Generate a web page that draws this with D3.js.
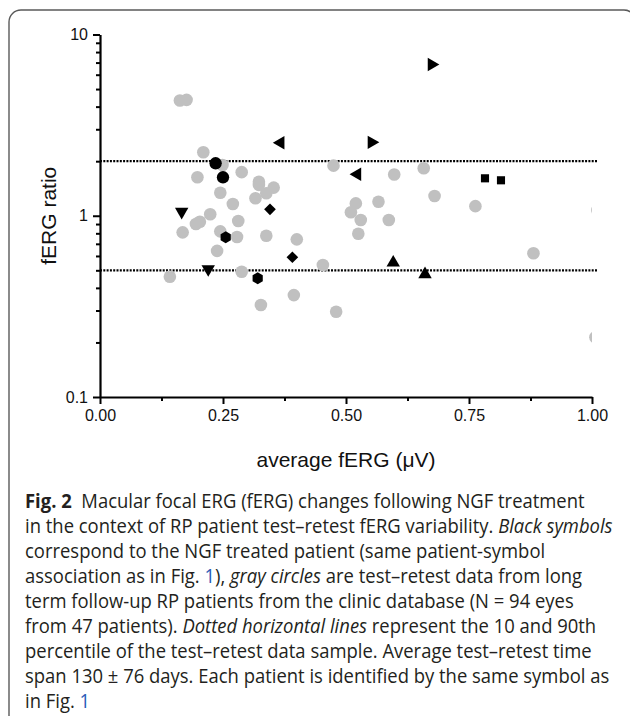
<!DOCTYPE html>
<html><head><meta charset="utf-8">
<script src="https://cdn.jsdelivr.net/npm/d3@7"></script>
<style>html,body{margin:0;padding:0;background:#fff;} svg{display:block}</style>
</head><body>
<svg id="c" width="630" height="716"></svg>
<script>
// ---------------- data ----------------
const grayX = [0.210,0.249,0.198,0.288,0.323,0.323,0.353,0.338,0.316,0.2445,0.270,0.224,0.203,0.195,0.281,0.168,0.2445,0.2785,0.338,0.400,0.238,
               0.4746,0.598,0.658,0.680,0.763,0.520,0.566,0.510,0.530,0.587,0.525,0.881,0.453,0.142,0.288,0.327,0.394,0.480,0.1624,0.176,1.011,1.007];
const grayY = [2.24,1.905,1.63,1.74,1.54,1.48,1.43,1.33,1.25,1.34,1.16,1.02,0.927,0.90,0.935,0.81,0.82,0.764,0.776,0.741,0.64,
               1.89,1.69,1.83,1.285,1.13,1.17,1.195,1.045,0.947,0.947,0.796,0.621,0.535,0.461,0.491,0.322,0.365,0.2955,4.32,4.36,1.076,0.2135];
const patientSymbols = ["circle","hexagon","triangleDown","diamond","triangleLeft","triangleRight","triangleUp","square"];
const patientX = [[0.235,0.250],[0.2555,0.3205],[0.166,0.220],[0.3455,0.391],[0.367,0.523],[0.552,0.674],[0.596,0.6606],[0.7825,0.815]];
const patientY = [[1.947,1.63],[0.761,0.452],[1.053,0.508],[1.085,0.590],[2.53,1.695],[2.54,6.83],[0.551,0.475],[1.609,1.569]];
const percentileLines = [2, 0.5];
const xTicks = [0, 0.25, 0.5, 0.75, 1];
const xTickLabels = ["0.00","0.25","0.50","0.75","1.00"];
const xMinorTicks = [0.125, 0.375, 0.625, 0.875];
const yTicks = [0.1, 1, 10];
const yTickLabels = ["0.1","1","10"];
const yMinorTicks = [0.2,0.3,0.4,0.5,0.6,0.7,0.8,0.9,2,3,4,5,6,7,8,9];
const xTitle = "average fERG (\u03bcV)";
const yTitle = "fERG ratio";
const captionLines = [
  [["Fig. 2","b"],["  Macular focal ERG (fERG) changes following NGF treatment",""]],
  [["in the context of RP patient test\u2013retest fERG variability. ",""],["Black symbols","i"]],
  [["correspond to the NGF treated patient (same patient-symbol",""]],
  [["association as in Fig. ",""],["1","l"],["), ",""],["gray circles","i"],[" are test\u2013retest data from long",""]],
  [["term follow-up RP patients from the clinic database (N = 94 eyes",""]],
  [["from 47 patients). ",""],["Dotted horizontal lines","i"],[" represent the 10 and 90th",""]],
  [["percentile of the test\u2013retest data sample. Average test\u2013retest time",""]],
  [["span 130 \u00b1 76 days. Each patient is identified by the same symbol as",""]],
  [["in Fig. ",""],["1","l"]]
];

// ---------------- chart ----------------
const svg = d3.select("#c");
const x = d3.scaleLinear().domain([0, 1]).range([100, 592]);
const y = d3.scaleLog().domain([0.1, 10]).range([397, 34.5]);

// frame
svg.append("path")
  .attr("d","M9,740 V22 A12,12 0 0 1 21,10 H624 A12,12 0 0 1 636,22 V740")
  .attr("fill","none").attr("stroke","#5a5a5a").attr("stroke-width",1.4);

svg.append("clipPath").attr("id","plotclip").append("rect")
  .attr("x", x(0)).attr("y", y(10)-10).attr("width", x(1)-x(0)).attr("height", y(0.1)-y(10)+10);

// dotted percentile lines
svg.append("g").selectAll("line").data(percentileLines).join("line")
  .attr("x1", x(0)).attr("x2", x(1.012))
  .attr("y1", d => y(d)).attr("y2", d => y(d))
  .attr("stroke","#000").attr("stroke-width",2.2).attr("stroke-dasharray","2 1.3");

// gray points
const grayData = grayX.map((v,i)=>({x:v,y:grayY[i]}));
svg.append("g").attr("clip-path","url(#plotclip)")
  .selectAll("circle").data(grayData).join("circle")
  .attr("cx", d=>x(d.x)).attr("cy", d=>y(d.y)).attr("r",6.3).attr("fill","#c0c0c0");

// symbols
const hexagon = { draw(ctx, size){ const r = Math.sqrt(size/(1.5*Math.sqrt(3)));
  for(let k=0;k<6;k++){ const a = Math.PI/6 + k*Math.PI/3; const px=r*Math.cos(a), py=r*Math.sin(a);
    if(k===0) ctx.moveTo(px,py); else ctx.lineTo(px,py);} ctx.closePath(); } };
const symDefs = {
  circle:        {type:d3.symbolCircle,   size:120, rot:0},
  hexagon:       {type:hexagon,           size:90,  rot:0},
  triangleDown:  {type:d3.symbolTriangle, size:78,  rot:180},
  triangleUp:    {type:d3.symbolTriangle, size:78,  rot:0},
  triangleLeft:  {type:d3.symbolTriangle, size:78,  rot:-90},
  triangleRight: {type:d3.symbolTriangle, size:78,  rot:90},
  diamond:       {type:d3.symbolSquare,   size:68,  rot:45},
  square:        {type:d3.symbolSquare,   size:66,  rot:0}
};
const blackData = [];
patientSymbols.forEach((s,i)=>patientX[i].forEach((v,j)=>blackData.push({s, x:v, y:patientY[i][j]})));
svg.append("g").selectAll("path").data(blackData).join("path")
  .attr("d", d=>d3.symbol(symDefs[d.s].type, symDefs[d.s].size)())
  .attr("transform", d=>`translate(${x(d.x)},${y(d.y)}) rotate(${symDefs[d.s].rot})`)
  .attr("fill","#000");

// axes
const tickFont = "'Liberation Sans', Arial, sans-serif";
const gy = svg.append("g").attr("transform",`translate(${x(0)},0)`);
gy.call(d3.axisLeft(y).tickValues(yTicks).tickFormat((d,i)=>yTickLabels[i]).tickSize(7).tickPadding(5).tickSizeOuter(0));
gy.append("g").call(d3.axisLeft(y).tickValues(yMinorTicks).tickFormat("").tickSize(4).tickSizeOuter(0))
  .select(".domain").remove();
const gx = svg.append("g").attr("transform",`translate(0,${y(0.1)})`);
gx.call(d3.axisBottom(x).tickValues(xTicks).tickFormat((d,i)=>xTickLabels[i]).tickSize(7).tickPadding(6).tickSizeOuter(0));
gx.append("g").call(d3.axisBottom(x).tickValues(xMinorTicks).tickFormat("").tickSize(4).tickSizeOuter(0))
  .select(".domain").remove();
svg.selectAll(".domain").attr("stroke","#000").attr("stroke-width",2.2);
svg.selectAll(".tick line").attr("stroke","#000").attr("stroke-width",2);
svg.selectAll(".tick text").attr("font-family",tickFont).attr("font-size",16).attr("fill","#111");

svg.append("text").attr("x", (x(0)+x(1))/2).attr("y", 467).attr("text-anchor","middle")
  .attr("font-family",tickFont).attr("font-size",21).attr("fill","#111").text(xTitle);
svg.append("text").attr("transform",`translate(56,${y(1)}) rotate(-90)`).attr("text-anchor","middle")
  .attr("font-family",tickFont).attr("font-size",21).attr("fill","#111").text(yTitle);

// caption
const capFont = "'Open Sans', 'Noto Sans', sans-serif";
const capLeft = 25;
const cap = svg.append("g").attr("font-family",capFont).attr("fill","#231f20");
const capTexts = captionLines.map((segs,i)=>{
  const t = cap.append("text").attr("x",0).attr("y",508.5 + i*25).attr("font-size",19.5).attr("xml:space","preserve");
  segs.forEach(([txt,st])=>{
    const ts = t.append("tspan").text(txt);
    if(st==="b") ts.attr("font-weight","bold");
    if(st==="i") ts.attr("font-style","italic");
    if(st==="l") ts.attr("fill","#2b5cb8");
  });
  return t;
});
// condense horizontally so line 2 spans the reference width
const w = capTexts[1].node().getComputedTextLength();
cap.attr("transform", `translate(${capLeft},0) scale(${588 / w},1)`);
</script>
</body></html>
